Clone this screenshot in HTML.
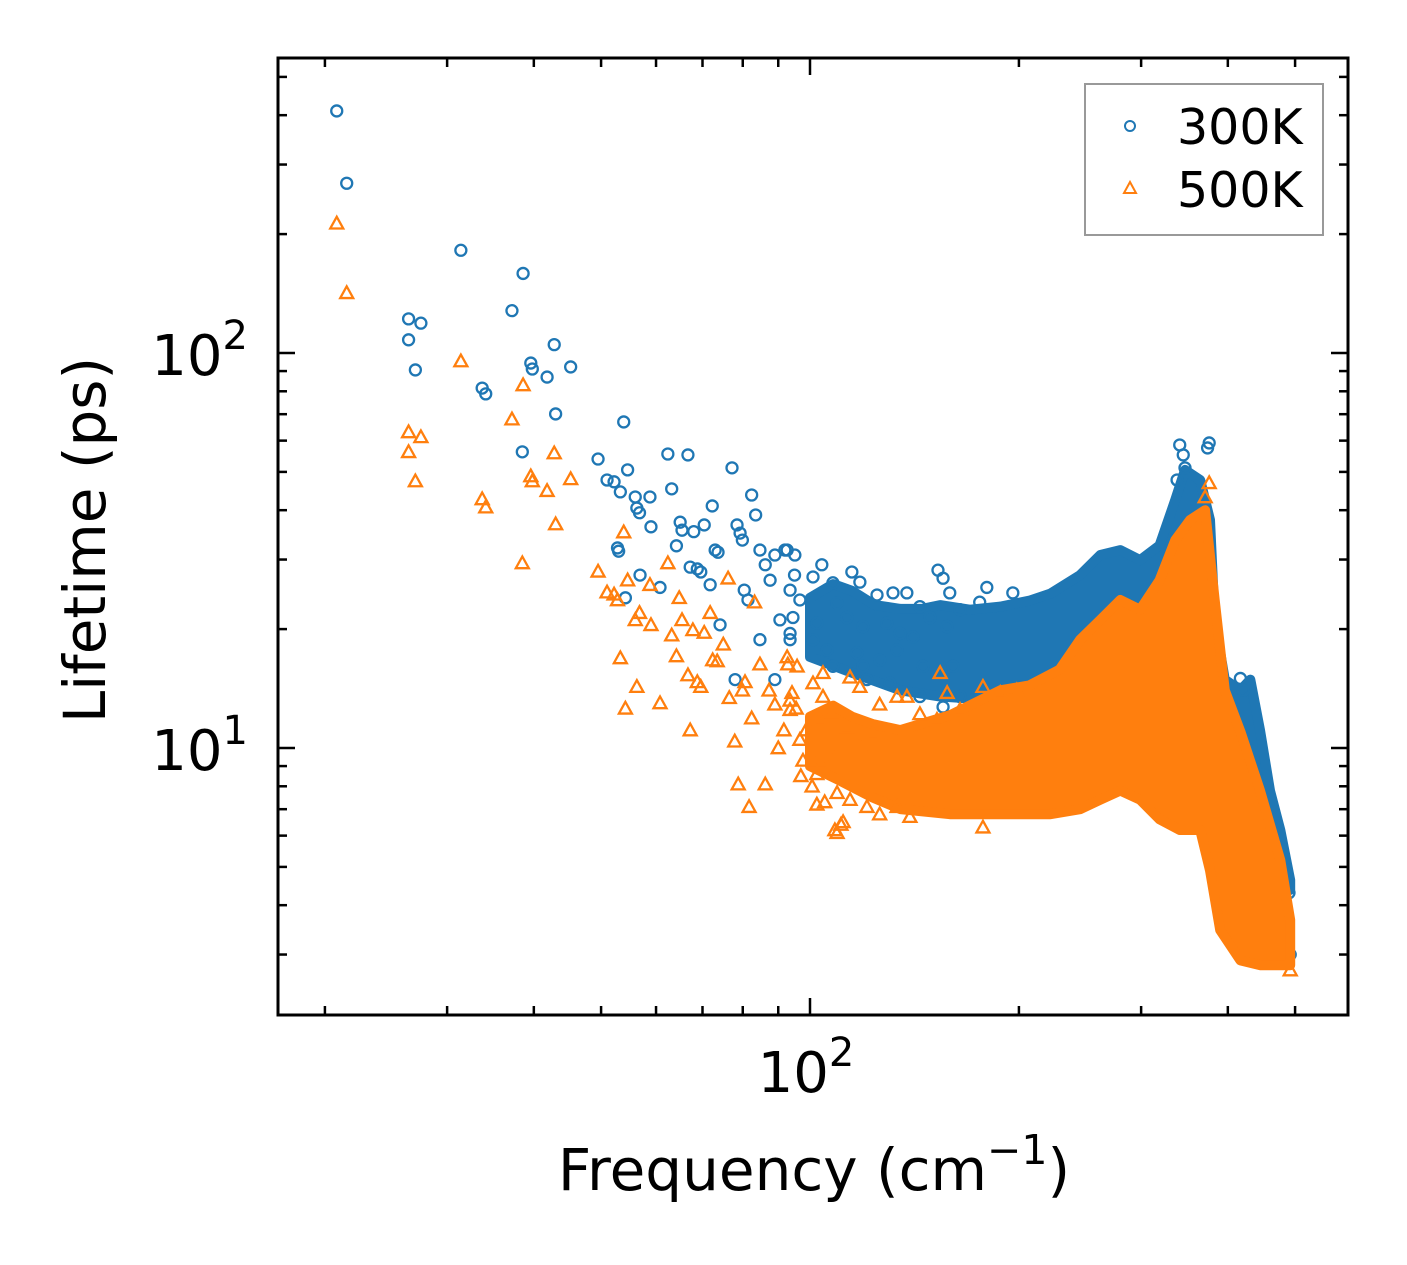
<!DOCTYPE html>
<html><head><meta charset="utf-8"><style>
html,body{margin:0;padding:0;background:#fff;}
svg{display:block;font-family:"DejaVu Sans","Liberation Sans",sans-serif;}
</style></head><body>
<svg id="chart" width="1407" height="1265" viewBox="0 0 1407 1265">
<g id="bands"></g><g id="marks"></g><g id="axes"></g>
</svg>
<script>
// ---- data ----
const blueSparseFreq = [20.8,21.5,26.4,26.4,27.5,27.0,31.4,33.7,34.1,37.2,38.6,38.5,39.6,39.8,41.8,42.8,43.0,45.2,
 49.5,51,52.2,52.8,53,53.3,53.9,54.2,54.6,56,56.3,56.8,56.9,58.8,59,60.8,62.4,63.2,64.2,65,65.4,66.7,67.2,68,68.8,69.6,70.4,71.8,72.3,73,73.7,77.2,78.5,79.3,79.9,80.4,81.4,82.4,83.5,84.7,86.2,87.6,89,90.5,92,93.6,95,96.7,74.2,78,84.7,89,
 92.7,95.1,104,114.9,118,107.9,101,93.6,109.4,124.9,131.7,137.9,144,152.9,155.5,159,164.5,175.6,179.8,196,94.5,102.3,113,119.2,129,134.8,148.9,93.6,105.8,116.9,126,140.7,157.6,107.9,120.8,130.3,144,155.5,164.5,101,119.2,133.5,145.5,160.7,
 345,341,376,374,347,338,490,492,417,421];
const blueSparseLife = [410,269,122,108,119,90.6,182,81.5,78.8,128,159,56.2,94.3,91.1,86.9,105,70.1,92.2,
 53.9,47.7,47.2,32.1,31.5,44.5,66.9,24,50.6,43.2,40.5,39.4,27.4,43.2,36.3,25.5,55.5,45.3,32.5,37.3,35.6,55.2,28.7,35.3,28.4,27.9,36.7,25.9,41,31.7,31.3,51.2,36.7,35.0,33.6,25.1,23.7,43.7,38.9,31.7,29.1,26.6,30.8,21.1,31.7,18.8,27.4,23.7,20.5,14.9,18.8,14.9,
 31.7,30.8,29.1,27.9,26.3,26.2,27.1,25.1,23.3,24.4,24.7,24.7,22.8,28.2,26.9,24.7,22.4,23.4,25.5,24.7,21.4,20.7,21.4,20.3,20.7,19.5,21.4,19.5,17.7,17.4,16.7,19.1,20.3,16.1,14.9,14.6,13.5,12.7,13.5,18.8,16.1,17.7,16.1,16.1,
 55.2,58.5,59.2,57.5,51.2,47.7,4.3,3.0,15.0,14.0];
const orangeSparseFreq = [20.8,21.5,26.4,26.4,27.5,27.0,31.4,33.7,34.1,37.2,38.6,38.5,39.6,39.8,41.8,42.8,43.0,45.2,
 49.5,51,52.2,52.8,53.3,53.9,54.2,54.6,56,56.3,56.8,58.8,59,60.8,62.4,63.2,64.2,64.8,65.4,66.7,67.2,67.8,68.8,69.6,70.4,71.8,72.4,73.5,75,76.2,76.5,77.9,78.8,79.9,80.6,81.7,82.4,83.2,84.7,86.2,87.3,89,90,91.7,92.9,94.2,95.5,97,98.7,100.7,102.7,105,106.9,108.6,110.8,
 92.7,95.8,104.4,114.2,101,93.6,104.4,118,126,133.5,137.9,144,154,157.6,152.4,164.5,177.5,188,198.6,96.7,103.4,113,123.2,97.7,107.9,118,102.3,109.4,102.3,114.2,120.8,126,133.5,139.3,111.6,109.4,177.5,93.6,
 376,371,492];
const orangeSparseLife = [213,142,63.1,56.2,61.3,47.4,95.4,42.7,40.7,68.0,83.0,29.4,48.8,47.4,44.8,55.8,36.9,48.0,
 28.0,24.8,24.5,23.7,16.9,35.2,12.6,26.6,21.1,14.3,22,25.9,20.5,13.0,29.4,19.3,17.1,24,21.1,15.3,11.1,19.9,14.7,14.3,19.6,22,16.7,16.6,18.3,26.9,13.4,10.4,8.1,14.0,14.7,7.1,11.9,23.4,16.3,8.1,14.0,12.9,10.0,11.1,16.3,13.8,12.6,8.5,11.1,8.0,9.3,7.3,12.3,6.2,6.4,
 17.0,16.1,15.5,15.1,14.6,13.2,13.5,14.3,12.9,13.5,13.5,12.2,15.5,13.8,11.8,12.5,14.3,13.8,14.0,10.5,11.8,11.3,10.9,9.3,9.5,10.1,8.6,7.7,7.2,7.4,7.1,6.8,7.1,6.7,6.5,6.1,6.3,12.5,
 46.9,43.2,2.74];
// dense cloud envelopes
const blueUpFreq = [100,108,115,124,135,145,154,170,188,207,222,245,262,280,299,319,336,347,365,377,383,396,417,431,445,460,476,492];
const blueUpLife = [24.0,26.0,25.0,23.0,22.5,22.5,23.0,22.4,22.8,23.6,24.6,27.4,30.8,31.7,29.9,32.6,42.5,50.6,47.7,37.8,21.1,14.9,14.0,14.9,11.1,7.8,6.2,4.63];
const blueLoFreq = [100,115,135,154,188,222,262,309,341,365,383,403,431,460,492];
const blueLoLife = [17.0,15.5,14.0,13.5,13.2,14.0,14.9,16.7,18.8,16.7,13.2,10.5,7.8,5.85,4.37];
const orangeUpFreq = [100,108,115,123,135,159,188,207,229,245,262,280,299,319,336,353,371,383,396,417,445,476,492];
const orangeUpLife = [12.0,12.8,12.0,11.5,11.1,12.1,14.0,14.4,15.8,18.8,21.1,23.7,22.4,26.6,33.6,37.8,40.0,23.7,14.0,11.0,7.8,5.2,3.67];
const orangeLoFreq = [100,110,123,135,159,188,222,245,262,280,299,319,341,365,377,390,417,445,492];
const orangeLoLife = [9.0,8.3,7.5,7.0,6.8,6.8,6.8,7.0,7.4,7.8,7.4,6.6,6.2,6.2,4.9,3.46,2.9,2.82,2.82];
const xMajorTicks = [100];
const yMajorTicks = [10,100];
const yMajorLabels = ["1","2"];

// ---- axes ----
const L=278,R=1348,T=58,B=1015;
const X0=810, XD=694, Y0=353, YD=395;
const sx = f => X0 + (Math.log10(f)-2)*XD;
const sy = v => Y0 - (Math.log10(v)-2)*YD;
const NS='http://www.w3.org/2000/svg';
function mk(tag, attrs, parent){const e=document.createElementNS(NS,tag);for(const k in attrs)e.setAttribute(k,attrs[k]);parent.appendChild(e);return e;}
const svg=document.getElementById('chart');
const marks=document.getElementById('marks'), axes=document.getElementById('axes');
const BLUE='#1f77b4', ORANGE='#ff7f0e';
const clip=mk('clipPath',{id:'pc'},svg);
mk('rect',{x:L,y:T,width:R-L,height:B-T},clip);
marks.setAttribute('clip-path','url(#pc)');

function band(upF,upL,loF,loL,color,name){
  let pts=[];
  for(let i=0;i<upF.length;i++)pts.push(sx(upF[i]).toFixed(1)+','+sy(upL[i]).toFixed(1));
  for(let i=loF.length-1;i>=0;i--)pts.push(sx(loF[i]).toFixed(1)+','+sy(loL[i]).toFixed(1));
  const p=mk('polygon',{points:pts.join(' '),fill:color,stroke:color,'stroke-width':10,'stroke-linejoin':'round'},marks);
  
  
}
function circle(f,v){
  const c=mk('circle',{cx:sx(f),cy:sy(v),r:5.5,fill:'none',stroke:BLUE,'stroke-width':2.3},marks);
  
  
}
function tri(f,v){
  const x=sx(f),y=sy(v),s=6.5;
  const t=mk('polygon',{points:`${x},${y-s} ${x-s},${y+s*0.8} ${x+s},${y+s*0.8}`,fill:'none',stroke:ORANGE,'stroke-width':2.3},marks);
  
  
}
band(blueUpFreq,blueUpLife,blueLoFreq,blueLoLife,BLUE,'cloud-300k');
for(let i=0;i<blueSparseFreq.length;i++)circle(blueSparseFreq[i],blueSparseLife[i]);
band(orangeUpFreq,orangeUpLife,orangeLoFreq,orangeLoLife,ORANGE,'cloud-500k');
for(let i=0;i<orangeSparseFreq.length;i++)tri(orangeSparseFreq[i],orangeSparseLife[i]);

// frame
const fr=mk('rect',{x:L,y:T,width:R-L,height:B-T,fill:'none',stroke:'#000','stroke-width':3},axes);


for(let d=1;d<=2;d++)for(let m=1;m<=9;m++){
  const f=m*Math.pow(10,d);const x=sx(f);if(x<L+1||x>R-1)continue;
  const len=m===1?17:9;
  mk('line',{x1:x,y1:B,x2:x,y2:B-len,stroke:'#000','stroke-width':2.5},axes);
  mk('line',{x1:x,y1:T,x2:x,y2:T+len,stroke:'#000','stroke-width':2.5},axes);
}
for(let i=0;i<xMajorTicks.length;i++){
  const t=mk('text',{x:sx(xMajorTicks[i])-4,y:1092,'font-size':56,'text-anchor':'middle'},axes);
  t.innerHTML='10<tspan dy="-26" font-size="40">2</tspan>';
  
  
}
for(let d=0;d<=2;d++)for(let m=1;m<=9;m++){
  const v=m*Math.pow(10,d);const y=sy(v);if(y<T+1||y>B-1)continue;
  const len=m===1?17:9;
  mk('line',{x1:L,y1:y,x2:L+len,y2:y,stroke:'#000','stroke-width':2.5},axes);
  mk('line',{x1:R,y1:y,x2:R-len,y2:y,stroke:'#000','stroke-width':2.5},axes);
}
for(let i=0;i<yMajorTicks.length;i++){
  const t=mk('text',{x:248,y:sy(yMajorTicks[i])+22,'font-size':56,'text-anchor':'end'},axes);
  t.innerHTML='10<tspan dy="-26" font-size="40">'+yMajorLabels[i]+'</tspan>';
  
  
}
const xt=mk('text',{x:814,y:1190,'font-size':58,'text-anchor':'middle'},axes);
xt.innerHTML='Frequency (cm<tspan dy="-26" font-size="41">−1</tspan><tspan dy="26">)</tspan>';


const yt=mk('text',{x:0,y:0,'font-size':58,'text-anchor':'middle',transform:'translate(105,540) rotate(-90)'},axes);
yt.textContent='Lifetime (ps)';


// legend
const lg=mk('g',{},axes);


mk('rect',{x:1085,y:84,width:238,height:151,fill:'#fff',stroke:'#999','stroke-width':2},lg);
const lc=mk('circle',{cx:1130,cy:126,r:5,fill:'none',stroke:BLUE,'stroke-width':2},lg);


const ltr=mk('polygon',{points:'1130,182 1124,193 1136,193',fill:'none',stroke:ORANGE,'stroke-width':2},lg);


const l1=mk('text',{x:1177,y:144,'font-size':49},lg);l1.textContent='300K';


const l2=mk('text',{x:1177,y:207,'font-size':49},lg);l2.textContent='500K';


</script>
</body></html>
